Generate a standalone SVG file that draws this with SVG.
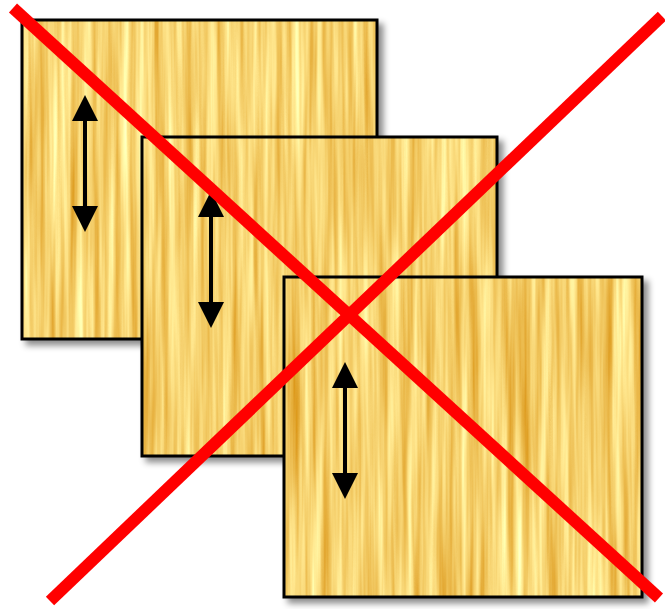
<svg xmlns="http://www.w3.org/2000/svg" width="665" height="609" viewBox="0 0 665 609">
<style>
.board{stroke:#000;stroke-width:3;}
.wood{filter:url(#wood);}
.xline{stroke:#ff0000;stroke-width:12;stroke-linecap:butt;fill:none;}
</style>
<defs>
<filter id="wood" x="0" y="0" width="665" height="609" filterUnits="userSpaceOnUse" color-interpolation-filters="sRGB">
<feTurbulence type="fractalNoise" baseFrequency="0.13 0.004" numOctaves="3" seed="7" result="n"/>
<feColorMatrix in="n" type="matrix" values="0.25 0 0 0 0.84  0.55 0 0 0 0.55  0.8 0 0 0 0.04  0 0 0 0 1" result="c"/>
<feComposite in="c" in2="SourceGraphic" operator="in"/>
</filter>
<filter id="shadow" x="-10%" y="-10%" width="130%" height="130%">
<feGaussianBlur in="SourceAlpha" stdDeviation="3"/>
<feOffset dx="5" dy="5" result="b"/>
<feFlood flood-color="#000" flood-opacity="0.45"/>
<feComposite in2="b" operator="in" result="s"/>
<feMerge><feMergeNode in="s"/><feMergeNode in="SourceGraphic"/></feMerge>
</filter>
<g id="arrow">
<polygon points="0,0 13,26 -13,26" fill="#000"/>
<rect x="-2" y="25" width="4" height="87" fill="#000"/>
<polygon points="0,137 13,111 -13,111" fill="#000"/>
</g>
</defs>
<rect width="665" height="609" fill="#fff"/>
<g id="board1" filter="url(#shadow)">
<rect x="22" y="20" width="355" height="319" fill="#f0d080" class="wood"/>
<rect x="22" y="20" width="355" height="319" fill="none" class="board"/>
<use href="#arrow" x="85" y="95"/>
</g>
<g id="board2" filter="url(#shadow)">
<rect x="142" y="137" width="355" height="319" fill="#f0d080" class="wood"/>
<rect x="142" y="137" width="355" height="319" fill="none" class="board"/>
<use href="#arrow" x="211" y="191"/>
</g>
<g id="board3" filter="url(#shadow)">
<rect x="284" y="277" width="358" height="320" fill="#f0d080" class="wood"/>
<rect x="284" y="277" width="358" height="320" fill="none" class="board"/>
<use href="#arrow" x="345" y="362"/>
</g>
<g id="connectors">
<line class="xline" x1="13" y1="8" x2="659" y2="598"/>
<line class="xline" x1="50" y1="601" x2="662" y2="16"/>
</g>
</svg>
